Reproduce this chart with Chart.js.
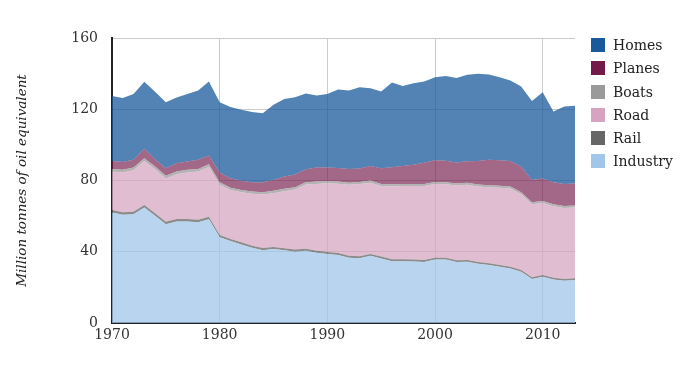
<!DOCTYPE html>
<html>
<head>
<meta charset="utf-8">
<script src="https://cdn.jsdelivr.net/npm/chart.js@4/dist/chart.umd.min.js"></script>
<style>
  html, body { margin: 0; padding: 0; background: #fff; }
  #wrap { position: relative; width: 695px; height: 390px; }
  canvas { position: absolute; left: 0; top: 0; }
  #legend { position: absolute; left: 591px; top: 38px; font-family: "DejaVu Serif", serif; font-size: 14px; color: #222; }
  .row { height: 23.3px; display: flex; align-items: flex-start; }
  .box { width: 14px; height: 14px; margin-right: 8px; }
  .lab { line-height: 14px; }
</style>
</head>
<body>
<div id="wrap">
  <canvas id="c" width="695" height="390"></canvas>
  <div id="legend"></div>
</div>
<script>
const years = [1970,1971,1972,1973,1974,1975,1976,1977,1978,1979,1980,1981,1982,1983,1984,1985,1986,1987,1988,1989,1990,1991,1992,1993,1994,1995,1996,1997,1998,1999,2000,2001,2002,2003,2004,2005,2006,2007,2008,2009,2010,2011,2012,2013];

const industry = [62.1,60.8,61.1,64.9,60.2,55.5,57.0,57.0,56.5,58.3,48.2,46.0,44.1,42.2,40.9,41.5,40.8,40.0,40.5,39.4,38.8,38.2,36.7,36.4,37.7,36.2,34.7,34.7,34.5,34.3,35.7,35.7,34.2,34.4,33.3,32.5,31.6,30.6,28.8,24.7,26.0,24.4,23.7,24.1];
const rail = [1.4,1.4,1.4,1.4,1.4,1.4,1.4,1.4,1.4,1.4,1.2,1.2,1.2,1.2,1.2,1.2,1.2,1.2,1.2,1.2,1.1,1.1,1.1,1.1,1.1,1.1,1.1,1.1,1.1,1.1,1.0,1.0,1.0,1.0,1.0,1.0,1.0,1.0,1.0,1.0,1.0,1.0,1.0,1.0];
const road = [21.5,22.3,23.3,24.7,24.7,24.2,25.1,26.1,27.1,27.9,28.3,27.5,28.1,29.1,30.0,30.2,32.0,33.7,36.0,37.5,38.5,38.9,39.8,40.5,40.0,39.6,40.9,41.1,41.3,41.5,41.4,41.2,42.0,42.2,42.3,42.7,43.4,43.9,42.5,41.0,40.4,40.2,39.9,39.7];
const boats = [1.5,1.5,1.5,1.5,1.5,1.5,1.5,1.5,1.5,1.5,1.3,1.3,1.3,1.3,1.3,1.3,1.3,1.3,1.3,1.3,1.2,1.2,1.2,1.2,1.2,1.2,1.2,1.2,1.2,1.2,1.1,1.1,1.1,1.1,1.1,1.1,1.1,1.1,1.1,1.1,1.1,1.1,1.1,1.1];
const planes = [4.5,4.4,4.3,5.3,4.2,4.3,4.7,4.6,5.1,4.9,5.5,5.3,5.1,5.2,5.6,6.1,6.9,7.1,7.3,7.9,7.7,7.6,7.7,7.5,8.2,8.8,9.6,10.1,10.8,11.8,12.2,12.1,11.8,12.1,13.3,14.3,14.3,14.4,14.4,12.5,12.6,12.3,12.4,12.4];
const homes = [36.5,35.9,36.9,37.6,37.8,37.1,36.9,38.0,38.9,41.6,39.5,39.9,39.9,39.5,38.8,42.2,43.5,43.5,42.5,40.4,41.3,44.1,44.0,45.7,43.6,43.1,47.5,44.9,45.7,45.7,46.6,47.5,47.4,48.5,49.0,47.9,46.6,45.1,45.0,44.4,48.5,39.7,43.4,43.6];

const xTicks = [1970,1980,1990,2000,2010];
const yTicks = [0,40,80,120,160];

const series = [
  { name: 'Industry', data: industry, color: '#a2c6ea', fill: 'rgba(162,198,234,0.75)' },
  { name: 'Rail',     data: rail,     color: '#666666', fill: 'rgba(102,102,102,0.75)' },
  { name: 'Road',     data: road,     color: '#d6a4c0', fill: 'rgba(214,164,192,0.72)' },
  { name: 'Boats',    data: boats,    color: '#9a9a9a', fill: 'rgba(154,154,154,0.75)' },
  { name: 'Planes',   data: planes,   color: '#741a4a', fill: 'rgba(116,26,74,0.66)' },
  { name: 'Homes',    data: homes,    color: '#195a9c', fill: 'rgba(25,90,156,0.75)' }
];

const datasets = series.map((s, i) => ({
  label: s.name,
  data: years.map((y, j) => ({ x: y, y: s.data[j] })),
  backgroundColor: s.fill,
  borderColor: 'rgba(0,0,0,0)',
  borderWidth: 0,
  pointRadius: 0,
  tension: 0,
  fill: i === 0 ? 'origin' : '-1'
}));

const serif = '"DejaVu Serif", serif';

new Chart(document.getElementById('c'), {
  type: 'line',
  data: { datasets },
  options: {
    responsive: false,
    animation: false,
    layout: { padding: { left: 0, right: 120, top: 38, bottom: 30 } },
    plugins: { legend: { display: false }, tooltip: { enabled: false } },
    scales: {
      x: {
        type: 'linear',
        min: 1970, max: 2013,
        afterBuildTicks: sc => { sc.ticks = xTicks.map(v => ({ value: v })); },
        afterFit: sc => { sc.height = 37; },
        ticks: { font: { family: serif, size: 14 }, color: '#333', padding: 4, maxRotation: 0, callback: v => String(v) },
        grid: { color: '#cccccc', lineWidth: 1, drawTicks: false },
        border: { display: true, color: '#222', width: 2 }
      },
      y: {
        stacked: true,
        min: 0, max: 160,
        afterBuildTicks: sc => { sc.ticks = yTicks.map(v => ({ value: v })); },
        afterFit: sc => { sc.width = 112; },
        ticks: { font: { family: serif, size: 14 }, color: '#333', padding: 14 },
        grid: { color: '#cccccc', lineWidth: 1, drawTicks: false },
        border: { display: true, color: '#222', width: 2 },
        title: { display: true, text: 'Million tonnes of oil equivalent', font: { family: serif, size: 13.5, style: 'italic' }, color: '#222', padding: { top: 14, bottom: 0 } }
      }
    }
  }
});

const leg = document.getElementById('legend');
series.slice().reverse().forEach(s => {
  const r = document.createElement('div'); r.className = 'row';
  const b = document.createElement('div'); b.className = 'box'; b.style.background = s.color;
  const t = document.createElement('div'); t.className = 'lab'; t.textContent = s.name;
  r.appendChild(b); r.appendChild(t); leg.appendChild(r);
});
</script>
</body>
</html>
